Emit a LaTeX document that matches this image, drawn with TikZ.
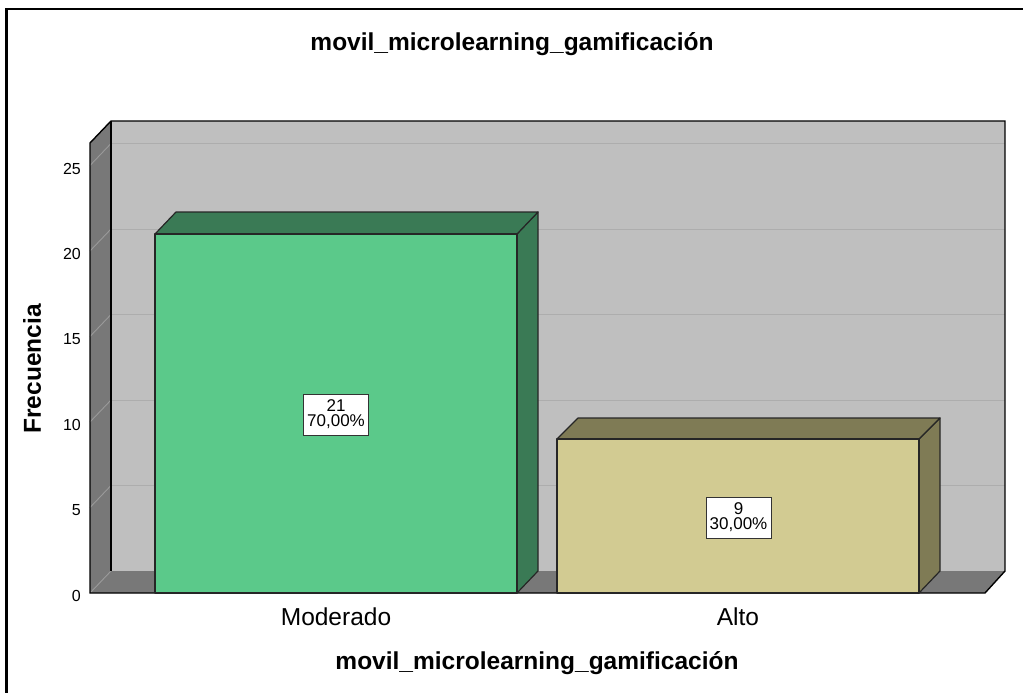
\documentclass[tikz,border=0pt]{standalone}
\usepackage{fontspec}
\setmainfont{Liberation Sans}
\begin{document}
\begin{tikzpicture}[x=1pt,y=-1pt,
  wallback/.style={fill=wallgray},
  wallside/.style={fill=sidegray},
  frameline/.style={draw=black,line width=1.4pt,line join=miter},
  gridback/.style={draw=gridgray,line width=1pt},
  gridside/.style={draw=gridside,line width=0.9pt},
  baredge/.style={draw=black!85,line width=1.2pt,line join=round},
  valbox/.style={draw=black!80,fill=white,line width=0.8pt,minimum width=65pt,minimum height=41pt,
    inner sep=0pt,align=center,font=\fontsize{17}{15}\selectfont},
  ticklabel/.style={anchor=east,font=\fontsize{16}{18}\selectfont,inner sep=0pt},
  catlabel/.style={font=\fontsize{24.5}{28}\selectfont,inner sep=0pt},
  axistitle/.style={font=\bfseries\fontsize{24.5}{28}\selectfont,inner sep=0pt}]
\definecolor{wallgray}{HTML}{BFBFBF}
\definecolor{sidegray}{HTML}{787878}
\definecolor{gridgray}{HTML}{ADADAD}
\definecolor{gridside}{HTML}{9A9A9A}
\definecolor{modfront}{HTML}{5BC98A}
\definecolor{modside}{HTML}{3A7A55}
\definecolor{altfront}{HTML}{D2CB92}
\definecolor{altside}{HTML}{7F7B55}

\useasboundingbox (0,0) rectangle (1023,693);
\fill[white] (0,0) rectangle (1023,693);

% outer frame (top and left edges)
\draw[line width=2.6pt] (6.5,693) -- (6.5,9) -- (1023,9);

% back wall with horizontal grid
\fill[wallback] (111,121) rectangle (1005,571);
\foreach \v in {5,10,...,25}
  \draw[gridback] (111,571-\v*17.1) -- (1005,571-\v*17.1);

% left wall with oblique grid
\fill[wallside] (90,143) -- (111,121) -- (111,571) -- (90,593) -- cycle;
\foreach \v in {5,10,...,25}
  \draw[gridside] (90,593-\v*17.1) -- (111,571-\v*17.1);

% floor
\fill[wallside] (90,593) -- (111,571) -- (1005,571) -- (985,593) -- cycle;
\draw[gridside] (90,593) -- (111,571);

% frame outline
\draw[frameline] (90,593) -- (90,143) -- (111,121) -- (1005,121) -- (1005,571) -- (985,593) -- cycle;
\draw[frameline] (111,121) -- (111,571);

% tick labels
\foreach \v in {0,5,...,25}
  \node[ticklabel] at (81,596-\v*17.1) {\v};

% bar: Moderado (21)
\filldraw[baredge,fill=modside] (517,593) -- (538,571) -- (538,212) -- (517,234) -- cycle;
\filldraw[baredge,fill=modside] (155,234) -- (176,212) -- (538,212) -- (517,234) -- cycle;
\filldraw[baredge,fill=modfront] (155,234) rectangle (517,593);

% bar: Alto (9)
\filldraw[baredge,fill=altside] (919,593) -- (940,571) -- (940,418) -- (919,439) -- cycle;
\filldraw[baredge,fill=altside] (557,439) -- (578,418) -- (940,418) -- (919,439) -- cycle;
\filldraw[baredge,fill=altfront] (557,439) rectangle (919,593);

% value labels
\node[valbox] (vmod) at (336,414.5) {21\\70,00\%};
\node[valbox] (valt) at (738.5,517.5) {9\\30,00\%};

% category labels
\node[catlabel] (cmod) at (336,617) {Moderado};
\node[catlabel] (calt) at (738,617) {Alto};

% titles
\node[axistitle] (title) at (512,44) {movil\_microlearning\_gamificación};
\node[axistitle] (xtitle) at (537,663) {movil\_microlearning\_gamificación};
\node[axistitle,rotate=90] (ytitle) at (32,369) {Frecuencia};
\end{tikzpicture}
\end{document}
